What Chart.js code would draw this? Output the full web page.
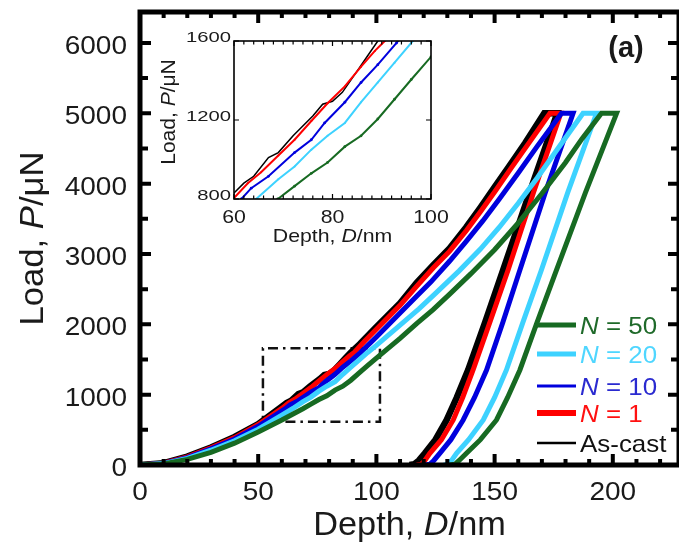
<!DOCTYPE html>
<html>
<head>
<meta charset="utf-8">
<script src="https://cdn.jsdelivr.net/npm/chart.js@4.4.1/dist/chart.umd.min.js"></script>
<style>
  html, body { margin: 0; padding: 0; background: #fff; }
  #wrap { position: relative; width: 679px; height: 545px; overflow: hidden; }
  #main { position: absolute; left: 0; top: 0; }
  #inset { position: absolute; left: 150px; top: 20px; }
</style>
</head>
<body>
<div id="wrap">
  <canvas id="main" width="679" height="545"></canvas>
  <canvas id="inset" width="300" height="235"></canvas>
</div>
<script>
// ---- data (depth in nm, load in uN) ----
const asCastDepth = [0,10,20,30,40,50,60,62,64,67,69,72,76,78,80,82,84.5,87,89.2,93,100,110,117,124,131,138,144,150,156,163,171,176.5,165,153.6,146,138.8,134,129.7,125,120.5,118,116,114];
const asCastLoad  = [0,25,120,250,400,580,830,880,915,1010,1035,1120,1220,1280,1295,1340,1430,1520,1600,1720,1960,2300,2590,2840,3080,3380,3660,3950,4240,4580,5000,5000,3890,2773,2030,1351,960,640,360,166,65,10,0];

const n1Depth = [0,10,20,30,40,50,60,62.8,65.5,69,72.3,75.7,79,82.5,85.8,88.6,90.6,95,100,110,117,124,131,138,144,150,157,165,173.4,178,166.5,155.7,148,140.9,136.5,132.5,127.5,122.6,120.5,119,117];
const n1Load  = [0,25,115,245,390,575,805,880,935,1020,1100,1195,1285,1370,1470,1550,1600,1760,1930,2270,2540,2800,3040,3330,3600,3880,4220,4600,5000,5000,3880,2773,2030,1351,960,640,360,166,65,10,0];

const n10Depth = [0,10,20,30,40,50,60,61.5,63.5,67,72.3,75.7,78.4,82.5,85.8,89.2,93,100,110,117,123,131,138,145,152,160,168,178.3,183.2,171.5,160.7,153.5,146.6,141.5,136.7,131.5,126.8,124.3,122.6,120.5];
const n10Load  = [0,22,105,230,370,550,770,800,855,915,1035,1100,1185,1290,1390,1480,1590,1820,2160,2400,2600,2900,3180,3470,3780,4150,4530,5000,5000,3880,2773,2030,1351,960,640,360,166,65,10,0];

const n20Depth = [0,10,20,30,40,50,60,64.5,69,72.3,75.7,79,82.5,85.8,89.2,92.6,96.3,100,110,118,125,135,144,152,160,168,177,187.4,193.1,181,169.8,162,155,150,145.2,139,133.9,131.8,130.4,128.5];
const n20Load  = [0,20,95,210,345,510,710,800,900,965,1050,1120,1185,1290,1390,1490,1600,1700,1990,2220,2440,2760,3070,3380,3720,4080,4510,5000,5000,3880,2773,2030,1351,960,640,360,166,65,10,0];

const n50Depth = [0,10,20,30,40,50,60,68.9,72.3,75.7,79,82.5,85.8,89.2,92.6,96,100,110,117,124,131,140,150,160,170,180,187,195.2,201.6,188.5,176.2,168,160.7,155.5,150.8,144,138.1,135,133.2,131];
const n50Load  = [0,15,80,180,310,470,640,800,865,930,985,1065,1120,1205,1305,1405,1520,1800,2010,2210,2430,2720,3060,3440,3860,4300,4640,5000,5000,3880,2773,2030,1351,960,640,360,166,65,10,0];

// dash-dot box marking the inset region
const boxDepth = [52, 101.5, 101.5, 52, 52];
const boxLoad  = [615, 615, 1660, 1660, 615];

// tick labels
const mainXTicks  = [0, 50, 100, 150, 200];
const mainYTicks  = [0, 1000, 2000, 3000, 4000, 5000, 6000];
const insetXTicks = [60, 80, 100];
const insetYTicks = [800, 1200, 1600];

// legend labels (N value, or plain text)
const seriesN = ['50', '20', '10', '1', null];
const seriesText = ['', '', '', '', 'As-cast'];

const FONT = '"Liberation Sans", Arial, sans-serif';

const zip = (xs, ys) => xs.map((x, i) => ({ x: x, y: ys[i] }));

// drawing order: first entry ends up on top
const series = [
  { depth: n50Depth,    load: n50Load,    color: '#176a22', text: '#1f6a2a', lw: 5,   legLw: 5,   insetPt: 1.4 },
  { depth: n20Depth,    load: n20Load,    color: '#3dd2ff', text: '#4fd6ff', lw: 5,   legLw: 5,   insetPt: 1.0 },
  { depth: n10Depth,    load: n10Load,    color: '#0000dd', text: '#2a2ad0', lw: 5,   legLw: 3,   insetPt: 1.4 },
  { depth: n1Depth,     load: n1Load,     color: '#ff0000', text: '#ff1010', lw: 5,   legLw: 6,   insetPt: 1.0 },
  { depth: asCastDepth, load: asCastLoad, color: '#000000', text: '#111111', lw: 6.5, legLw: 2.5, insetPt: 0 }
];

function font(size, italic, bold) {
  return (italic ? 'italic ' : '') + (bold ? 'bold ' : '') + size + 'px ' + FONT;
}

// text made of parts, some italic; sx stretches along the text
function drawText(ctx, parts, x, y, o) {
  ctx.save();
  ctx.translate(x, y);
  if (o.rotate) ctx.rotate(o.rotate);
  ctx.scale(o.sx || 1, 1);
  ctx.textBaseline = 'alphabetic';
  ctx.textAlign = 'left';
  let w = 0;
  parts.forEach(p => { ctx.font = font(o.size, p.i, o.bold); w += ctx.measureText(p.t).width; });
  let cx = o.align === 'center' ? -w / 2 : (o.align === 'right' ? -w : 0);
  parts.forEach(p => {
    ctx.font = font(o.size, p.i, o.bold);
    ctx.fillStyle = o.color || '#111';
    ctx.fillText(p.t, cx, 0);
    cx += ctx.measureText(p.t).width;
  });
  ctx.restore();
}

// frame plus inward ticks on all four sides
function drawFrame(chart, f) {
  const { ctx, chartArea: a, scales: { x, y } } = chart;
  ctx.save();
  ctx.strokeStyle = '#000';
  ctx.lineWidth = f.frameWidth;
  ctx.strokeRect(a.left, a.top, a.right - a.left, a.bottom - a.top);
  ctx.lineWidth = f.tickWidth;
  ctx.lineCap = 'butt';
  ctx.beginPath();
  for (let i = 0; f.xStart + i * f.xStep <= x.max; i++) {
    const v = f.xStart + i * f.xStep;
    const px = x.getPixelForValue(v);
    const len = (v % f.xMajor === 0) ? f.majorLen : f.minorLen;
    ctx.moveTo(px, a.bottom); ctx.lineTo(px, a.bottom - len);
    ctx.moveTo(px, a.top); ctx.lineTo(px, a.top + len);
  }
  for (let i = 0; f.yStart + i * f.yStep <= y.max; i++) {
    const v = f.yStart + i * f.yStep;
    const py = y.getPixelForValue(v);
    const len = (v % f.yMajor === 0) ? f.majorLen : f.yMinorLen;
    ctx.moveTo(a.left, py); ctx.lineTo(a.left + len, py);
    ctx.moveTo(a.right, py); ctx.lineTo(a.right - len, py);
  }
  ctx.stroke();
  ctx.restore();
}

const mainDecor = {
  id: 'mainDecor',
  afterDraw(chart) {
    const { ctx, chartArea: a, scales: { x, y } } = chart;
    drawFrame(chart, { frameWidth: 5, tickWidth: 4, xStart: 0, xStep: 10, xMajor: 50,
      yStart: 0, yStep: 500, yMajor: 1000, majorLen: 11, minorLen: 6, yMinorLen: 8 });

    mainXTicks.forEach(v => drawText(ctx, [{ t: String(v) }], x.getPixelForValue(v), 500,
      { size: 25, sx: 1.12, align: 'center', color: '#1a1a1a' }));
    mainYTicks.forEach(v => drawText(ctx, [{ t: String(v) }], 127, y.getPixelForValue(v) + 11,
      { size: 25, sx: 1.12, align: 'right', color: '#1a1a1a' }));

    drawText(ctx, [{ t: 'Depth, ' }, { t: 'D', i: true }, { t: '/nm' }], (a.left + a.right) / 2, 535,
      { size: 33, sx: 1.04, align: 'center', color: '#1a1a1a' });
    drawText(ctx, [{ t: 'Load, ' }, { t: 'P', i: true }, { t: '/\u03bcN' }], 43, (a.top + a.bottom) / 2,
      { size: 34, sx: 1.02, align: 'center', rotate: -Math.PI / 2, color: '#1a1a1a' });

    drawText(ctx, [{ t: '(a)' }], 626, 57, { size: 29, bold: true, align: 'center', color: '#1a1a1a' });

    // legend
    const rows = [325, 354, 386, 413, 443];
    series.forEach((s, i) => {
      ctx.save();
      ctx.strokeStyle = s.color;
      ctx.lineWidth = s.legLw;
      ctx.beginPath();
      ctx.moveTo(537, rows[i]); ctx.lineTo(576, rows[i]);
      ctx.stroke();
      ctx.restore();
      const parts = seriesN[i] ? [{ t: 'N', i: true }, { t: ' = ' + seriesN[i] }] : [{ t: seriesText[i] }];
      drawText(ctx, parts, 580, rows[i] + 8.5, { size: 24, sx: 1.08, color: s.text });
    });
  }
};

new Chart(document.getElementById('main'), {
  type: 'line',
  data: {
    datasets: series.map(s => ({
      data: zip(s.depth, s.load),
      borderColor: s.color,
      borderWidth: s.lw,
      borderJoinStyle: 'miter',
      pointRadius: 0,
      tension: 0,
      fill: false
    })).concat([{
      data: zip(boxDepth, boxLoad),
      borderColor: '#111',
      borderWidth: 2.5,
      borderDash: [10, 5, 2.5, 5],
      pointRadius: 0,
      tension: 0,
      fill: false
    }])
  },
  options: {
    responsive: false,
    animation: false,
    devicePixelRatio: 1,
    layout: { padding: { top: 12, right: 0, left: 0, bottom: 0 } },
    plugins: { legend: { display: false }, tooltip: { enabled: false } },
    scales: {
      x: {
        type: 'linear', min: 0, max: 228,
        grid: { display: false, drawTicks: false }, border: { display: false },
        ticks: { display: false },
        afterFit: s => { s.height = 80; }
      },
      y: {
        type: 'linear', min: 0, max: 6440,
        grid: { display: false, drawTicks: false }, border: { display: false },
        ticks: { display: false },
        afterFit: s => { s.width = 140; }
      }
    }
  },
  plugins: [mainDecor]
});

const insetDecor = {
  id: 'insetDecor',
  afterDraw(chart) {
    const { ctx, chartArea: a, scales: { x, y } } = chart;
    drawFrame(chart, { frameWidth: 1.6, tickWidth: 1.2, xStart: 60, xStep: 2, xMajor: 20,
      yStart: 800, yStep: 400, yMajor: 400, majorLen: 5, minorLen: 3.5, yMinorLen: 5 });

    insetXTicks.forEach(v => drawText(ctx, [{ t: String(v) }], x.getPixelForValue(v), 203,
      { size: 19, sx: 1.12, align: 'center', color: '#1a1a1a' }));
    insetYTicks.forEach(v => drawText(ctx, [{ t: String(v) }], 81, y.getPixelForValue(v) + 1,
      { size: 15, sx: 1.35, align: 'right', color: '#1a1a1a' }));

    drawText(ctx, [{ t: 'Depth, ' }, { t: 'D', i: true }, { t: '/nm' }], (a.left + a.right) / 2, 222,
      { size: 19, sx: 1.12, align: 'center', color: '#1a1a1a' });
    drawText(ctx, [{ t: 'Load, ' }, { t: 'P', i: true }, { t: '/\u03bcN' }], 25, 92,
      { size: 20, sx: 1.05, align: 'center', rotate: -Math.PI / 2, color: '#1a1a1a' });
  }
};

new Chart(document.getElementById('inset'), {
  type: 'line',
  data: {
    datasets: series.map(s => ({
      data: zip(s.depth, s.load),
      borderColor: s.color,
      backgroundColor: s.color,
      borderWidth: s.color === '#000000' ? 1.5 : 2,
      pointRadius: s.insetPt,
      pointBorderWidth: 0,
      tension: 0,
      fill: false
    }))
  },
  options: {
    responsive: false,
    animation: false,
    devicePixelRatio: 1,
    layout: { padding: { top: 21, right: 19, left: 0, bottom: 0 } },
    plugins: { legend: { display: false }, tooltip: { enabled: false } },
    scales: {
      x: {
        type: 'linear', min: 60, max: 100,
        grid: { display: false, drawTicks: false }, border: { display: false },
        ticks: { display: false },
        afterFit: s => { s.height = 56; }
      },
      y: {
        type: 'linear', min: 800, max: 1600,
        grid: { display: false, drawTicks: false }, border: { display: false },
        ticks: { display: false },
        afterFit: s => { s.width = 84; }
      }
    }
  },
  plugins: [insetDecor]
});
</script>
</body>
</html>
